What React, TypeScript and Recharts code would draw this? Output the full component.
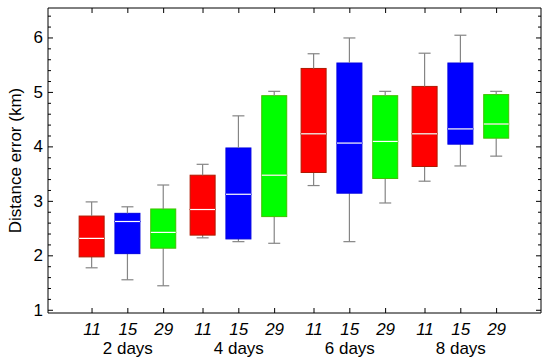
import { ComposedChart, Bar, XAxis, YAxis } from 'recharts';

const groups = ['2 days', '4 days', '6 days', '8 days'];
const members = ['11', '15', '29'];
const colors = ['#ff0000', '#0000ff', '#00ff00'];
const edges = ['#b01a00', '#0000e0', '#40c000'];

// x position of every box (gap between groups a bit wider)
const positions = [0, 1, 2, 3.1, 4.1, 5.1, 6.2, 7.2, 8.2, 9.3, 10.3, 11.3];

// box stats, order: group by group, 11 / 15 / 29
const lows = [1.78, 1.56, 1.45, 2.33, 2.26, 2.23, 3.29, 2.26, 2.97, 3.37, 3.65, 3.83];
const q1s = [1.98, 2.04, 2.14, 2.38, 2.31, 2.72, 3.53, 3.15, 3.42, 3.64, 4.05, 4.16];
const medians = [2.32, 2.63, 2.43, 2.85, 3.13, 3.48, 4.24, 4.07, 4.10, 4.24, 4.33, 4.42];
const q3s = [2.73, 2.78, 2.86, 3.48, 3.98, 4.94, 5.44, 5.54, 4.94, 5.11, 5.54, 4.96];
const highs = [2.99, 2.90, 3.30, 3.68, 4.57, 5.02, 5.71, 6.00, 5.02, 5.72, 6.05, 5.02];

const yTicks = [
  1, 1.2, 1.4, 1.6, 1.8, 2, 2.2, 2.4, 2.6, 2.8, 3, 3.2, 3.4, 3.6, 3.8, 4,
  4.2, 4.4, 4.6, 4.8, 5, 5.2, 5.4, 5.6, 5.8, 6, 6.2, 6.4,
];

const data = positions.map((x, i) => ({
  x,
  color: colors[i % 3],
  edge: edges[i % 3],
  base: lows[i],
  wLo: q1s[i] - lows[i],
  bLo: medians[i] - q1s[i],
  bHi: q3s[i] - medians[i],
  wHi: highs[i] - q3s[i],
}));

const FONT = '"Liberation Sans", Arial, sans-serif';
const WHISKER = '#858585';
const CAP = 6;

const isMajor = (v: number) => Math.abs(v - Math.round(v)) < 1e-6;

const LeftTick = (p: any) => {
  const v = p.payload.value;
  const major = isMajor(v);
  return (
    <g>
      <line x1={p.x} x2={p.x + (major ? 5 : 3)} y1={p.y} y2={p.y} stroke="#000" />
      {major && (
        <text x={p.x - 5} y={p.y} textAnchor="end" dominantBaseline="central" fontSize={17} fill="#000" fontFamily={FONT}>
          {v}
        </text>
      )}
    </g>
  );
};

const RightTick = (p: any) => {
  const major = isMajor(p.payload.value);
  return <line x1={p.x} x2={p.x - (major ? 5 : 3)} y1={p.y} y2={p.y} stroke="#000" />;
};

const TopTick = (p: any) => <line x1={p.x} x2={p.x} y1={p.y} y2={p.y + 5} stroke="#000" />;

const BottomTick = (p: any) => {
  const i = positions.findIndex(v => Math.abs(v - p.payload.value) < 1e-6);
  if (i < 0) return <g />;
  const m = i % 3;
  return (
    <g>
      <line x1={p.x} x2={p.x} y1={p.y} y2={p.y - 5} stroke="#000" />
      <text x={p.x} y={p.y + 16.5} textAnchor="middle" dominantBaseline="central" fontSize={17} fontStyle="italic" fill="#000" fontFamily={FONT}>
        {members[m]}
      </text>
      {m === 1 && (
        <text x={p.x} y={p.y + 35} textAnchor="middle" dominantBaseline="central" fontSize={17} fill="#000" fontFamily={FONT}>
          {groups[Math.floor(i / 3)]}
        </text>
      )}
    </g>
  );
};

const LowWhisker = (p: any) => {
  const cx = p.x + p.width / 2;
  const bottom = p.y + p.height;
  return (
    <g>
      <line x1={cx} x2={cx} y1={p.y} y2={bottom} stroke={WHISKER} strokeWidth={1.2} />
      <line x1={cx - CAP} x2={cx + CAP} y1={bottom} y2={bottom} stroke={WHISKER} strokeWidth={1.2} />
    </g>
  );
};

const HighWhisker = (p: any) => {
  const cx = p.x + p.width / 2;
  return (
    <g>
      <line x1={cx} x2={cx} y1={p.y} y2={p.y + p.height} stroke={WHISKER} strokeWidth={1.2} />
      <line x1={cx - CAP} x2={cx + CAP} y1={p.y} y2={p.y} stroke={WHISKER} strokeWidth={1.2} />
    </g>
  );
};

const LowBox = (p: any) => (
  <rect x={p.x} y={p.y} width={p.width} height={p.height} fill={p.payload.color} stroke={p.payload.edge} strokeWidth={1} />
);

const HighBox = (p: any) => (
  <g>
    <rect x={p.x} y={p.y} width={p.width} height={p.height} fill={p.payload.color} stroke={p.payload.edge} strokeWidth={1} />
    <line x1={p.x} x2={p.x + p.width} y1={p.y + p.height} y2={p.y + p.height} stroke="#ffffff" strokeWidth={1.2} />
  </g>
);

const YTitle = (p: any) => {
  const vb = p.viewBox || { x: 0, y: 8, width: 48, height: 305 };
  const cy = vb.y + vb.height / 2;
  return (
    <text x={15} y={cy} transform={`rotate(-90 15 ${cy})`} textAnchor="middle" dominantBaseline="central" fontSize={17} fill="#000" fontFamily={FONT}>
      Distance error (km)
    </text>
  );
};

export default function App() {
  return (
    <div style={{ position: 'absolute', left: 0, top: 0, background: '#fff' }}>
      <ComposedChart width={550} height={364} data={data} margin={{ top: 0, right: 0, bottom: 0, left: 0 }}>
        <XAxis
          xAxisId="b" dataKey="x" type="number" domain={[-1.23, 12.54]} allowDataOverflow
          ticks={positions} interval={0} tickSize={0} tickMargin={0} tickLine={false}
          axisLine={{ stroke: '#000' }} tick={BottomTick} height={51}
        />
        <XAxis
          xAxisId="t" orientation="top" dataKey="x" type="number" domain={[-1.23, 12.54]} allowDataOverflow
          ticks={positions} interval={0} tickSize={0} tickMargin={0} tickLine={false}
          axisLine={{ stroke: '#000' }} tick={TopTick} height={8}
        />
        <YAxis
          yAxisId="l" type="number" domain={[0.95, 6.55]} allowDataOverflow
          ticks={yTicks} interval={0} tickSize={0} tickMargin={0} tickLine={false}
          axisLine={{ stroke: '#000' }} tick={LeftTick} width={48}
          label={{ content: YTitle }}
        />
        <YAxis
          yAxisId="r" orientation="right" type="number" domain={[0.95, 6.55]} allowDataOverflow
          ticks={yTicks} interval={0} tickSize={0} tickMargin={0} tickLine={false}
          axisLine={{ stroke: '#000' }} tick={RightTick} width={9}
        />
        <Bar xAxisId="b" yAxisId="l" dataKey="base" stackId="box" barSize={25} fill="none" shape={() => <g />} isAnimationActive={false} />
        <Bar xAxisId="b" yAxisId="l" dataKey="wLo" stackId="box" barSize={25} shape={LowWhisker} isAnimationActive={false} />
        <Bar xAxisId="b" yAxisId="l" dataKey="bLo" stackId="box" barSize={25} shape={LowBox} isAnimationActive={false} />
        <Bar xAxisId="b" yAxisId="l" dataKey="bHi" stackId="box" barSize={25} shape={HighBox} isAnimationActive={false} />
        <Bar xAxisId="b" yAxisId="l" dataKey="wHi" stackId="box" barSize={25} shape={HighWhisker} isAnimationActive={false} />
      </ComposedChart>
    </div>
  );
}
